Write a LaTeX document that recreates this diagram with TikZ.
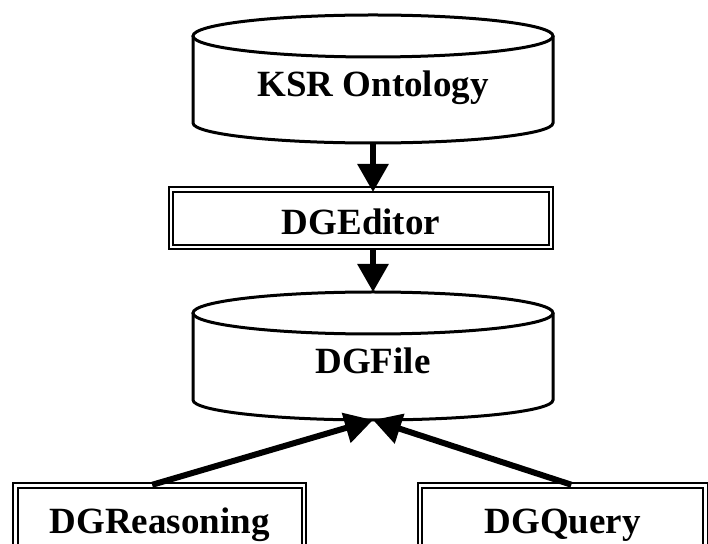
\documentclass[tikz,border=0pt]{standalone}
\usepackage{fontspec}
\setmainfont{Liberation Serif}
\usepackage{tikz}
\usetikzlibrary{arrows.meta,calc}

\begin{document}
\begin{tikzpicture}[x=1pt, y=1pt,
        font=\fontsize{37pt}{40pt}\selectfont\bfseries,
        store/.style={minimum width=360pt, minimum height=128pt, inner sep=0pt, outer sep=0pt, text height=36pt, text depth=0pt},
        can/.style={line width=3pt},
        tool/.style={draw, double, double distance=2.4pt, line width=2.2pt, inner sep=0pt, outer sep=0pt},
        flow/.style={line width=6pt, -{Triangle[length=28pt, width=30pt]}}]
        \path[use as bounding box] (0,0) rectangle (708,543);
        \clip (0,0) rectangle (708,543);

        % Ontology store
        \node[store] (ksr) at (373,464) {KSR Ontology};
        \draw[can] ($(ksr.north)+(0,-21)$) ellipse [x radius=180, y radius=21];
        \draw[can] ($(ksr.north west)+(0,-21)$) -- ($(ksr.south west)+(0,20)$)
            arc[start angle=180, end angle=360, x radius=180, y radius=20] -- ($(ksr.north east)+(0,-21)$);

        % Editor
        \node[tool, minimum width=380pt, minimum height=57.5pt, text height=33.5pt, text depth=0pt] (editor) at (361,324.75) {DGEditor};

        % File store
        \node[store] (dgfile) at (373,187) {DGFile};
        \draw[can] ($(dgfile.north)+(0,-21)$) ellipse [x radius=180, y radius=21];
        \draw[can] ($(dgfile.north west)+(0,-21)$) -- ($(dgfile.south west)+(0,20)$)
            arc[start angle=180, end angle=360, x radius=180, y radius=20] -- ($(dgfile.north east)+(0,-21)$);

        % Reasoning and query tools
        \node[tool, minimum width=288.5pt, minimum height=70pt, text height=25pt, text depth=0pt] (reason) at (159.75,22.5) {DGReasoning};
        \node[tool, minimum width=285.5pt, minimum height=70pt, text height=25pt, text depth=0pt] (query) at (562.75,22.5) {DGQuery};

        % Arrows
        \draw[flow, shorten >=-2.5pt] (ksr.south) -- (ksr.south |- editor.north);
        \draw[flow, shorten <=2.5pt] (dgfile.north |- editor.south) -- (dgfile.north);
        \draw[flow, shorten <=2.5pt] ([xshift=-10pt]reason.north) -- (dgfile.south);
        \draw[flow, shorten <=2.5pt] ([xshift=11pt]query.north) -- (dgfile.south);
    \end{tikzpicture}
\end{document}
